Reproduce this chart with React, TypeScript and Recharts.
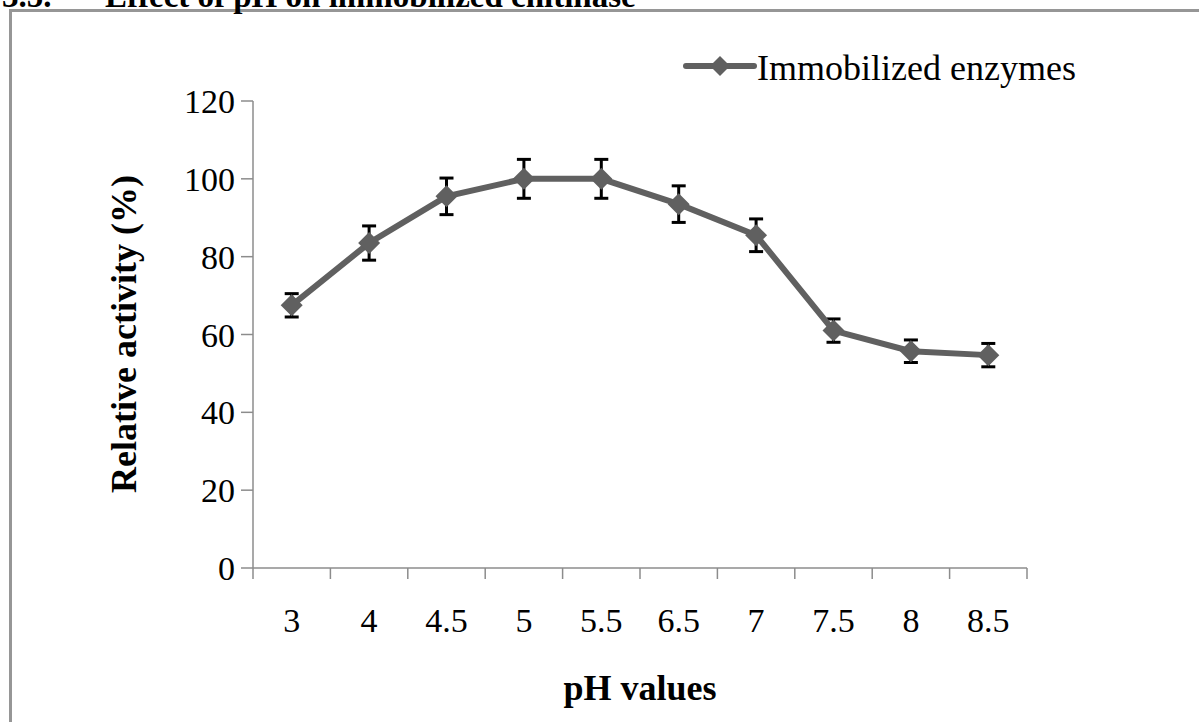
import React from "react";
import { LineChart, Line, XAxis, YAxis, ErrorBar, Legend } from "recharts";

const phLabels = ["3", "4", "4.5", "5", "5.5", "6.5", "7", "7.5", "8", "8.5"];
const activity = [67.5, 83.5, 95.5, 100, 100, 93.5, 85.5, 61, 55.7, 54.7];
const activityErr = [3, 4.4, 4.7, 5, 5, 4.7, 4.2, 3, 2.9, 3];
const yTicks = [0, 20, 40, 60, 80, 100, 120];

const seriesName = "Immobilized enzymes";
const xTitle = "pH values";
const yTitle = "Relative activity (%)";

const data = phLabels.map((ph, i) => ({
  ph,
  pos: i + 0.5,
  activity: activity[i],
  err: activityErr[i],
}));

// tick marks sit between categories, labels in the middle of each band
const xTicks = phLabels.flatMap((_, i) => [i, i + 0.5]).concat(phLabels.length);

const FONT = "'Liberation Serif', 'Times New Roman', serif";
const LINE = "#606060";
const AXIS = "#8c8c8c";

function XTick({ x, y, payload }: any) {
  const v = payload.value as number;
  if (Number.isInteger(v)) {
    return <line x1={x} y1={y} x2={x} y2={y + 11} stroke={AXIS} strokeWidth={1.5} />;
  }
  return (
    <text x={x} y={y + 64} textAnchor="middle" fontSize={34} fontFamily={FONT} fill="#000">
      {phLabels[Math.floor(v)]}
    </text>
  );
}

function Diamond({ cx, cy, index }: any) {
  const r = 11;
  return (
    <path
      key={`d-${index}`}
      d={`M${cx},${cy - r} L${cx + r},${cy} L${cx},${cy + r} L${cx - r},${cy} Z`}
      fill={LINE}
    />
  );
}

function LegendBox() {
  return (
    <svg width={420} height={50}>
      <line x1={6} y1={26} x2={74} y2={26} stroke={LINE} strokeWidth={6} strokeLinecap="round" />
      <path d="M40,16 L50,26 L40,36 L30,26 Z" fill={LINE} />
      <text x={77} y={40} fontSize={36} fontFamily={FONT} fill="#000">
        {seriesName}
      </text>
    </svg>
  );
}

export default function App() {
  return (
    <div
      style={{
        position: "absolute",
        top: 0,
        left: 0,
        width: 1199,
        height: 722,
        overflow: "hidden",
        background: "#fff",
      }}
    >
      <div
        style={{
          position: "absolute",
          left: 9,
          top: 9,
          width: 1400,
          height: 1000,
          border: "3px solid #969696",
        }}
      />
      <svg style={{ position: "absolute", left: 0, top: 0 }} width={1199} height={20}>
        <text x={2} y={7} fontSize={33} fontWeight="bold" fontFamily={FONT}>
          3.5.
        </text>
        <text x={105} y={7} fontSize={33} fontWeight="bold" fontFamily={FONT}>
          Effect of pH on immobilized chitinase
        </text>
      </svg>
      <div style={{ position: "absolute", left: 0, top: 0 }}>
        <LineChart width={1199} height={722} data={data} margin={{ top: 101, right: 172, bottom: 0, left: 0 }}>
          <XAxis
            dataKey="pos"
            type="number"
            domain={[0, phLabels.length]}
            ticks={xTicks}
            interval={0}
            height={154}
            tickLine={false}
            tickSize={0}
            tickMargin={0}
            tick={<XTick />}
            axisLine={{ stroke: AXIS, strokeWidth: 1.5 }}
            label={{
              value: xTitle,
              position: "insideBottom",
              offset: 22,
              fontSize: 36,
              fontWeight: "bold",
              fontFamily: FONT,
              fill: "#000",
            }}
          />
          <YAxis
            width={253}
            domain={[0, 120]}
            ticks={yTicks}
            interval={0}
            tickSize={12}
            tickMargin={6}
            tickLine={{ stroke: AXIS, strokeWidth: 1.5 }}
            axisLine={{ stroke: AXIS, strokeWidth: 1.5 }}
            tick={{ fontSize: 34, fontFamily: FONT, fill: "#000" }}
            label={{
              value: yTitle,
              content: () => (
                <text
                  x={136}
                  y={334}
                  transform="rotate(-90 136 334)"
                  textAnchor="middle"
                  fontSize={36}
                  fontWeight="bold"
                  fontFamily={FONT}
                  fill="#000"
                >
                  {yTitle}
                </text>
              ),
            }}
          />
          <Legend
            verticalAlign="middle"
            align="center"
            content={<LegendBox />}
            wrapperStyle={{ left: 680, top: 40, width: 420, height: 50 }}
          />
          <Line
            type="linear"
            dataKey="activity"
            name={seriesName}
            stroke={LINE}
            strokeWidth={6}
            dot={<Diamond />}
            activeDot={false}
            isAnimationActive={false}
          >
            <ErrorBar dataKey="err" direction="y" width={7} stroke="#000" strokeWidth={3} isAnimationActive={false} />
          </Line>
        </LineChart>
      </div>
    </div>
  );
}
